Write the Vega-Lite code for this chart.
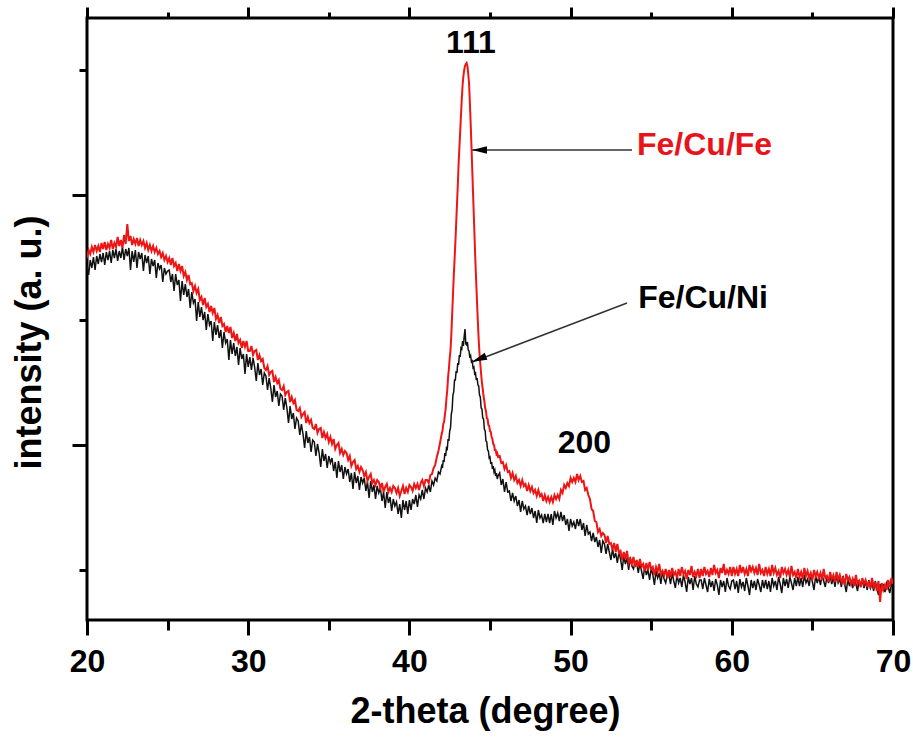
{
"$schema": "https://vega.github.io/schema/vega-lite/v6.json",
"width": 806,
"height": 602,
"autosize": {"type": "none"},
"padding": {"left": 87, "top": 18, "right": 20, "bottom": 122},
"background": "white",
"config": {
  "view": {"stroke": "black", "strokeWidth": 3},
  "axis": {"grid": false, "domain": false, "tickColor": "black", "tickWidth": 3, "labelFont": "Liberation Sans", "titleFont": "Liberation Sans", "labelFontWeight": "bold", "titleFontWeight": "bold", "labelColor": "black", "titleColor": "black", "labelFlush": false}
},
"resolve": {"axis": {"x": "independent", "y": "independent"}},
"datasets": {
"xrd": [
{"t":20.0,"fe":362,"ni":355},{"t":20.1,"fe":370,"ni":345},{"t":20.2,"fe":366,"ni":360},{"t":20.3,"fe":373,"ni":352},{"t":20.4,"fe":368,"ni":363},{"t":20.5,"fe":375,"ni":350},{"t":20.6,"fe":369,"ni":364},{"t":20.7,"fe":374,"ni":356},{"t":20.8,"fe":368,"ni":366},{"t":20.9,"fe":377,"ni":358},
{"t":21.0,"fe":371,"ni":367},{"t":21.1,"fe":378,"ni":355},{"t":21.2,"fe":370,"ni":368},{"t":21.3,"fe":376,"ni":360},{"t":21.4,"fe":372,"ni":369},{"t":21.5,"fe":380,"ni":357},{"t":21.6,"fe":371,"ni":370},{"t":21.7,"fe":377,"ni":362},{"t":21.8,"fe":373,"ni":371},{"t":21.9,"fe":383,"ni":359},
{"t":22.0,"fe":374,"ni":369},{"t":22.1,"fe":380,"ni":362},{"t":22.2,"fe":372,"ni":373},{"t":22.3,"fe":385,"ni":360},{"t":22.4,"fe":376,"ni":371},{"t":22.5,"fe":396,"ni":364},{"t":22.6,"fe":379,"ni":372},{"t":22.7,"fe":384,"ni":350},{"t":22.8,"fe":375,"ni":369},{"t":22.9,"fe":381,"ni":358},
{"t":23.0,"fe":376,"ni":370},{"t":23.1,"fe":382,"ni":352},{"t":23.2,"fe":374,"ni":368},{"t":23.3,"fe":380,"ni":361},{"t":23.4,"fe":375,"ni":367},{"t":23.5,"fe":379,"ni":349},{"t":23.6,"fe":372,"ni":365},{"t":23.7,"fe":377,"ni":357},{"t":23.8,"fe":370,"ni":364},{"t":23.9,"fe":375,"ni":346},
{"t":24.0,"fe":369,"ni":361},{"t":24.1,"fe":374,"ni":354},{"t":24.2,"fe":368,"ni":360},{"t":24.3,"fe":372,"ni":342},{"t":24.4,"fe":366,"ni":357},{"t":24.5,"fe":369,"ni":351},{"t":24.6,"fe":363,"ni":355},{"t":24.7,"fe":367,"ni":338},{"t":24.8,"fe":360,"ni":352},{"t":24.9,"fe":364,"ni":346},
{"t":25.0,"fe":358,"ni":349},{"t":25.1,"fe":362,"ni":350},{"t":25.2,"fe":355,"ni":338},{"t":25.3,"fe":362,"ni":346},{"t":25.4,"fe":354,"ni":329},{"t":25.5,"fe":357,"ni":346},{"t":25.6,"fe":349,"ni":335},{"t":25.7,"fe":356,"ni":340},{"t":25.8,"fe":349,"ni":319},{"t":25.9,"fe":354,"ni":339},
{"t":26.0,"fe":344,"ni":325},{"t":26.1,"fe":348,"ni":336},{"t":26.2,"fe":340,"ni":323},{"t":26.3,"fe":345,"ni":331},{"t":26.4,"fe":336,"ni":312},{"t":26.5,"fe":337,"ni":328},{"t":26.6,"fe":329,"ni":317},{"t":26.7,"fe":334,"ni":321},{"t":26.8,"fe":327,"ni":299},{"t":26.9,"fe":331,"ni":318},
{"t":27.0,"fe":320,"ni":303},{"t":27.1,"fe":323,"ni":313},{"t":27.2,"fe":315,"ni":300},{"t":27.3,"fe":322,"ni":308},{"t":27.4,"fe":313,"ni":290},{"t":27.5,"fe":316,"ni":306},{"t":27.6,"fe":308,"ni":295},{"t":27.7,"fe":314,"ni":299},{"t":27.8,"fe":307,"ni":279},{"t":27.9,"fe":312,"ni":298},
{"t":28.0,"fe":301,"ni":285},{"t":28.1,"fe":305,"ni":295},{"t":28.2,"fe":297,"ni":282},{"t":28.3,"fe":303,"ni":290},{"t":28.4,"fe":294,"ni":272},{"t":28.5,"fe":296,"ni":288},{"t":28.6,"fe":288,"ni":277},{"t":28.7,"fe":294,"ni":281},{"t":28.8,"fe":287,"ni":260},{"t":28.9,"fe":293,"ni":280},
{"t":29.0,"fe":282,"ni":266},{"t":29.1,"fe":287,"ni":277},{"t":29.2,"fe":279,"ni":264},{"t":29.3,"fe":286,"ni":273},{"t":29.4,"fe":277,"ni":255},{"t":29.5,"fe":280,"ni":272},{"t":29.6,"fe":272,"ni":261},{"t":29.7,"fe":279,"ni":266},{"t":29.8,"fe":273,"ni":246},{"t":29.9,"fe":279,"ni":266},
{"t":30.0,"fe":269,"ni":253},{"t":30.1,"fe":269,"ni":263},{"t":30.2,"fe":274,"ni":250},{"t":30.3,"fe":265,"ni":262},{"t":30.4,"fe":269,"ni":253},{"t":30.5,"fe":270,"ni":239},{"t":30.6,"fe":260,"ni":257},{"t":30.7,"fe":265,"ni":245},{"t":30.8,"fe":259,"ni":251},{"t":30.9,"fe":261,"ni":235},
{"t":31.0,"fe":252,"ni":247},{"t":31.1,"fe":250,"ni":244},{"t":31.2,"fe":254,"ni":230},{"t":31.3,"fe":245,"ni":242},{"t":31.4,"fe":248,"ni":232},{"t":31.5,"fe":249,"ni":218},{"t":31.6,"fe":238,"ni":235},{"t":31.7,"fe":243,"ni":223},{"t":31.8,"fe":237,"ni":229},{"t":31.9,"fe":240,"ni":214},
{"t":32.0,"fe":231,"ni":226},{"t":32.1,"fe":230,"ni":224},{"t":32.2,"fe":234,"ni":210},{"t":32.3,"fe":225,"ni":222},{"t":32.4,"fe":228,"ni":212},{"t":32.5,"fe":229,"ni":197},{"t":32.6,"fe":218,"ni":214},{"t":32.7,"fe":223,"ni":201},{"t":32.8,"fe":217,"ni":207},{"t":32.9,"fe":220,"ni":191},
{"t":33.0,"fe":210,"ni":202},{"t":33.1,"fe":209,"ni":199},{"t":33.2,"fe":212,"ni":185},{"t":33.3,"fe":203,"ni":196},{"t":33.4,"fe":206,"ni":186},{"t":33.5,"fe":208,"ni":172},{"t":33.6,"fe":197,"ni":189},{"t":33.7,"fe":203,"ni":177},{"t":33.8,"fe":197,"ni":183},{"t":33.9,"fe":200,"ni":168},
{"t":34.0,"fe":192,"ni":180},{"t":34.1,"fe":191,"ni":178},{"t":34.2,"fe":196,"ni":164},{"t":34.3,"fe":187,"ni":176},{"t":34.4,"fe":191,"ni":167},{"t":34.5,"fe":192,"ni":153},{"t":34.6,"fe":182,"ni":171},{"t":34.7,"fe":188,"ni":159},{"t":34.8,"fe":182,"ni":166},{"t":34.9,"fe":186,"ni":152},
{"t":35.0,"fe":178,"ni":164},{"t":35.1,"fe":183,"ni":157},{"t":35.2,"fe":176,"ni":162},{"t":35.3,"fe":181,"ni":149},{"t":35.4,"fe":171,"ni":158},{"t":35.5,"fe":175,"ni":142},{"t":35.6,"fe":177,"ni":159},{"t":35.7,"fe":167,"ni":148},{"t":35.8,"fe":171,"ni":155},{"t":35.9,"fe":165,"ni":141},
{"t":36.0,"fe":169,"ni":153},{"t":36.1,"fe":167,"ni":146},{"t":36.2,"fe":160,"ni":151},{"t":36.3,"fe":164,"ni":138},{"t":36.4,"fe":154,"ni":147},{"t":36.5,"fe":158,"ni":131},{"t":36.6,"fe":160,"ni":148},{"t":36.7,"fe":151,"ni":137},{"t":36.8,"fe":154,"ni":144},{"t":36.9,"fe":148,"ni":130},
{"t":37.0,"fe":153,"ni":143},{"t":37.1,"fe":150,"ni":137},{"t":37.2,"fe":144,"ni":142},{"t":37.3,"fe":148,"ni":129},{"t":37.4,"fe":139,"ni":138},{"t":37.5,"fe":143,"ni":122},{"t":37.6,"fe":146,"ni":139},{"t":37.7,"fe":137,"ni":128},{"t":37.8,"fe":140,"ni":135},{"t":37.9,"fe":135,"ni":121},
{"t":38.0,"fe":140,"ni":134},{"t":38.1,"fe":138,"ni":127},{"t":38.2,"fe":132,"ni":132},{"t":38.3,"fe":137,"ni":119},{"t":38.4,"fe":128,"ni":128},{"t":38.5,"fe":133,"ni":112},{"t":38.6,"fe":136,"ni":128},{"t":38.7,"fe":128,"ni":117},{"t":38.8,"fe":132,"ni":123},{"t":38.9,"fe":128,"ni":109},
{"t":39.0,"fe":134,"ni":121},{"t":39.1,"fe":132,"ni":114},{"t":39.2,"fe":127,"ni":118},{"t":39.3,"fe":132,"ni":106},{"t":39.4,"fe":124,"ni":116},{"t":39.5,"fe":129,"ni":102},{"t":39.6,"fe":134,"ni":120},{"t":39.7,"fe":126,"ni":110},{"t":39.8,"fe":132,"ni":119},{"t":39.9,"fe":128,"ni":106},
{"t":40.0,"fe":135,"ni":120},{"t":40.1,"fe":133,"ni":110},{"t":40.2,"fe":129,"ni":121},{"t":40.3,"fe":136,"ni":116},{"t":40.4,"fe":132,"ni":125},{"t":40.5,"fe":136,"ni":113},{"t":40.6,"fe":130,"ni":125},{"t":40.7,"fe":137,"ni":121},{"t":40.8,"fe":140,"ni":130},{"t":40.9,"fe":134,"ni":121},
{"t":41.0,"fe":140,"ni":132},{"t":41.1,"fe":140,"ni":128},{"t":41.2,"fe":137,"ni":135},{"t":41.3,"fe":145,"ni":128},{"t":41.4,"fe":146,"ni":139},{"t":41.5,"fe":152,"ni":135},{"t":41.6,"fe":155,"ni":142},{"t":41.7,"fe":163,"ni":139},{"t":41.8,"fe":169,"ni":148},{"t":41.9,"fe":177,"ni":146},
{"t":42.0,"fe":186,"ni":154},{"t":42.05,"fe":189,"ni":152},{"t":42.1,"fe":196,"ni":160},{"t":42.15,"fe":198,"ni":158},{"t":42.2,"fe":205,"ni":167},{"t":42.25,"fe":211,"ni":164},{"t":42.3,"fe":222,"ni":172},{"t":42.35,"fe":230,"ni":171},{"t":42.4,"fe":243,"ni":181},{"t":42.45,"fe":251,"ni":179},
{"t":42.5,"fe":262,"ni":189},{"t":42.55,"fe":270,"ni":192},{"t":42.6,"fe":285,"ni":206},{"t":42.65,"fe":305,"ni":210},{"t":42.7,"fe":324,"ni":225},{"t":42.75,"fe":343,"ni":228},{"t":42.8,"fe":360,"ni":240},{"t":42.85,"fe":377,"ni":240},{"t":42.9,"fe":396,"ni":249},{"t":42.95,"fe":415,"ni":247},
{"t":43.0,"fe":434,"ni":257},{"t":43.05,"fe":455,"ni":255},{"t":43.1,"fe":472,"ni":265},{"t":43.15,"fe":488,"ni":263},{"t":43.2,"fe":505,"ni":272},{"t":43.25,"fe":521,"ni":271},{"t":43.3,"fe":535,"ni":279},{"t":43.35,"fe":544,"ni":274},{"t":43.4,"fe":550,"ni":284},{"t":43.45,"fe":554,"ni":291},
{"t":43.5,"fe":556,"ni":276},{"t":43.55,"fe":557,"ni":275},{"t":43.6,"fe":554,"ni":278},{"t":43.65,"fe":546,"ni":270},{"t":43.7,"fe":537,"ni":269},{"t":43.75,"fe":518,"ni":262},{"t":43.8,"fe":497,"ni":264},{"t":43.85,"fe":474,"ni":258},{"t":43.9,"fe":450,"ni":259},{"t":43.95,"fe":426,"ni":252},
{"t":44.0,"fe":403,"ni":253},{"t":44.05,"fe":379,"ni":246},{"t":44.1,"fe":356,"ni":247},{"t":44.15,"fe":336,"ni":240},{"t":44.2,"fe":316,"ni":242},{"t":44.25,"fe":297,"ni":235},{"t":44.3,"fe":280,"ni":234},{"t":44.35,"fe":266,"ni":225},{"t":44.4,"fe":256,"ni":223},{"t":44.45,"fe":246,"ni":212},
{"t":44.5,"fe":237,"ni":211},{"t":44.55,"fe":231,"ni":202},{"t":44.6,"fe":224,"ni":201},{"t":44.65,"fe":219,"ni":191},{"t":44.7,"fe":212,"ni":189},{"t":44.75,"fe":209,"ni":179},{"t":44.8,"fe":202,"ni":178},{"t":44.85,"fe":201,"ni":170},{"t":44.9,"fe":195,"ni":169},{"t":44.95,"fe":194,"ni":162},
{"t":45.0,"fe":189,"ni":163},{"t":45.05,"fe":188,"ni":156},{"t":45.1,"fe":183,"ni":158},{"t":45.15,"fe":181,"ni":151},{"t":45.2,"fe":176,"ni":154},{"t":45.25,"fe":175,"ni":148},{"t":45.3,"fe":170,"ni":150},{"t":45.35,"fe":170,"ni":144},{"t":45.4,"fe":166,"ni":147},{"t":45.45,"fe":167,"ni":141},
{"t":45.5,"fe":163,"ni":144},{"t":45.6,"fe":164,"ni":147},{"t":45.7,"fe":157,"ni":135},{"t":45.8,"fe":158,"ni":141},{"t":45.9,"fe":151,"ni":128},
{"t":46.0,"fe":155,"ni":138},{"t":46.1,"fe":148,"ni":128},{"t":46.2,"fe":149,"ni":129},{"t":46.3,"fe":142,"ni":119},{"t":46.4,"fe":147,"ni":127},{"t":46.5,"fe":140,"ni":119},{"t":46.6,"fe":144,"ni":124},{"t":46.7,"fe":137,"ni":114},{"t":46.8,"fe":140,"ni":120},{"t":46.9,"fe":134,"ni":108},
{"t":47.0,"fe":140,"ni":119},{"t":47.1,"fe":134,"ni":111},{"t":47.2,"fe":136,"ni":114},{"t":47.3,"fe":129,"ni":105},{"t":47.4,"fe":135,"ni":114},{"t":47.5,"fe":129,"ni":106},{"t":47.6,"fe":133,"ni":112},{"t":47.7,"fe":127,"ni":102},{"t":47.8,"fe":130,"ni":109},{"t":47.9,"fe":124,"ni":97},
{"t":48.0,"fe":130,"ni":110},{"t":48.1,"fe":124,"ni":102},{"t":48.2,"fe":126,"ni":105},{"t":48.3,"fe":119,"ni":97},{"t":48.4,"fe":125,"ni":106},{"t":48.5,"fe":119,"ni":98},{"t":48.6,"fe":123,"ni":106},{"t":48.7,"fe":118,"ni":97},{"t":48.8,"fe":123,"ni":106},{"t":48.9,"fe":118,"ni":95},
{"t":49.0,"fe":125,"ni":109},{"t":49.1,"fe":121,"ni":102},{"t":49.2,"fe":125,"ni":107},{"t":49.3,"fe":121,"ni":99},{"t":49.4,"fe":130,"ni":108},{"t":49.5,"fe":127,"ni":99},{"t":49.6,"fe":135,"ni":105},{"t":49.7,"fe":132,"ni":95},{"t":49.8,"fe":137,"ni":101},{"t":49.9,"fe":134,"ni":89},
{"t":50.0,"fe":142,"ni":101},{"t":50.1,"fe":138,"ni":94},{"t":50.2,"fe":142,"ni":98},{"t":50.3,"fe":138,"ni":91},{"t":50.4,"fe":146,"ni":101},{"t":50.5,"fe":140,"ni":94},{"t":50.6,"fe":144,"ni":101},{"t":50.7,"fe":138,"ni":90},{"t":50.8,"fe":139,"ni":97},{"t":50.9,"fe":130,"ni":84},
{"t":51.0,"fe":132,"ni":95},{"t":51.1,"fe":125,"ni":86},{"t":51.2,"fe":121,"ni":88},{"t":51.3,"fe":111,"ni":79},{"t":51.4,"fe":109,"ni":87},{"t":51.5,"fe":99,"ni":78},{"t":51.6,"fe":98,"ni":83},{"t":51.7,"fe":88,"ni":73},{"t":51.8,"fe":91,"ni":80},{"t":51.9,"fe":84,"ni":67},
{"t":52.0,"fe":87,"ni":79},{"t":52.1,"fe":85,"ni":76},{"t":52.2,"fe":77,"ni":66},{"t":52.3,"fe":84,"ni":76},{"t":52.4,"fe":76,"ni":68},{"t":52.5,"fe":77,"ni":60},{"t":52.6,"fe":70,"ni":71},{"t":52.7,"fe":77,"ni":62},{"t":52.8,"fe":68,"ni":67},{"t":52.9,"fe":76,"ni":57},
{"t":53.0,"fe":67,"ni":68},{"t":53.1,"fe":69,"ni":61},{"t":53.2,"fe":60,"ni":50},{"t":53.3,"fe":68,"ni":64},{"t":53.4,"fe":61,"ni":56},{"t":53.5,"fe":69,"ni":62},{"t":53.6,"fe":57,"ni":50},{"t":53.7,"fe":61,"ni":63},{"t":53.8,"fe":56,"ni":54},{"t":53.9,"fe":63,"ni":51},
{"t":54.0,"fe":53,"ni":58},{"t":54.1,"fe":60,"ni":57},{"t":54.2,"fe":53,"ni":47},{"t":54.3,"fe":61,"ni":57},{"t":54.4,"fe":53,"ni":49},{"t":54.5,"fe":56,"ni":41},{"t":54.6,"fe":49,"ni":54},{"t":54.7,"fe":57,"ni":45},{"t":54.8,"fe":50,"ni":50},{"t":54.9,"fe":58,"ni":40},
{"t":55.0,"fe":51,"ni":52},{"t":55.1,"fe":53,"ni":45},{"t":55.2,"fe":45,"ni":35},{"t":55.3,"fe":53,"ni":49},{"t":55.4,"fe":48,"ni":42},{"t":55.5,"fe":56,"ni":47},{"t":55.6,"fe":45,"ni":36},{"t":55.7,"fe":49,"ni":49},{"t":55.8,"fe":45,"ni":41},{"t":55.9,"fe":51,"ni":37},
{"t":56.0,"fe":42,"ni":45},{"t":56.1,"fe":50,"ni":45},{"t":56.2,"fe":43,"ni":36},{"t":56.3,"fe":52,"ni":47},{"t":56.4,"fe":45,"ni":39},{"t":56.5,"fe":48,"ni":32},{"t":56.6,"fe":42,"ni":45},{"t":56.7,"fe":51,"ni":37},{"t":56.8,"fe":44,"ni":42},{"t":56.9,"fe":53,"ni":33},
{"t":57.0,"fe":46,"ni":45},{"t":57.1,"fe":49,"ni":38},{"t":57.2,"fe":41,"ni":28},{"t":57.3,"fe":50,"ni":43},{"t":57.4,"fe":45,"ni":36},{"t":57.5,"fe":54,"ni":42},{"t":57.6,"fe":43,"ni":30},{"t":57.7,"fe":48,"ni":44},{"t":57.8,"fe":44,"ni":36},{"t":57.9,"fe":51,"ni":33},
{"t":58.0,"fe":42,"ni":40},{"t":58.1,"fe":51,"ni":40},{"t":58.2,"fe":44,"ni":31},{"t":58.3,"fe":53,"ni":42},{"t":58.4,"fe":46,"ni":35},{"t":58.5,"fe":49,"ni":28},{"t":58.6,"fe":43,"ni":41},{"t":58.7,"fe":52,"ni":33},{"t":58.8,"fe":45,"ni":39},{"t":58.9,"fe":55,"ni":29},
{"t":59.0,"fe":47,"ni":41},{"t":59.1,"fe":50,"ni":35},{"t":59.2,"fe":42,"ni":25},{"t":59.3,"fe":52,"ni":40},{"t":59.4,"fe":47,"ni":33},{"t":59.5,"fe":56,"ni":39},{"t":59.6,"fe":45,"ni":28},{"t":59.7,"fe":50,"ni":42},{"t":59.8,"fe":46,"ni":34},{"t":59.9,"fe":53,"ni":31},
{"t":60.0,"fe":44,"ni":39},{"t":60.1,"fe":53,"ni":40},{"t":60.2,"fe":46,"ni":31},{"t":60.3,"fe":51,"ni":39},{"t":60.4,"fe":44,"ni":27},{"t":60.5,"fe":55,"ni":41},{"t":60.6,"fe":47,"ni":33},{"t":60.7,"fe":53,"ni":38},{"t":60.8,"fe":46,"ni":29},{"t":60.9,"fe":51,"ni":42},
{"t":61.0,"fe":44,"ni":34},{"t":61.1,"fe":55,"ni":25},{"t":61.2,"fe":49,"ni":40},{"t":61.3,"fe":53,"ni":32},{"t":61.4,"fe":47,"ni":39},{"t":61.5,"fe":52,"ni":30},{"t":61.6,"fe":45,"ni":41},{"t":61.7,"fe":56,"ni":35},{"t":61.8,"fe":47,"ni":28},{"t":61.9,"fe":50,"ni":40},
{"t":62.0,"fe":44,"ni":32},{"t":62.1,"fe":53,"ni":40},{"t":62.2,"fe":46,"ni":31},{"t":62.3,"fe":51,"ni":39},{"t":62.4,"fe":44,"ni":28},{"t":62.5,"fe":55,"ni":42},{"t":62.6,"fe":47,"ni":34},{"t":62.7,"fe":52,"ni":39},{"t":62.8,"fe":45,"ni":30},{"t":62.9,"fe":49,"ni":43},
{"t":63.0,"fe":42,"ni":36},{"t":63.1,"fe":53,"ni":27},{"t":63.2,"fe":47,"ni":42},{"t":63.3,"fe":51,"ni":34},{"t":63.4,"fe":45,"ni":41},{"t":63.5,"fe":50,"ni":32},{"t":63.6,"fe":43,"ni":43},{"t":63.7,"fe":54,"ni":37},{"t":63.8,"fe":45,"ni":30},{"t":63.9,"fe":48,"ni":42},
{"t":64.0,"fe":42,"ni":34},{"t":64.1,"fe":51,"ni":43},{"t":64.2,"fe":43,"ni":34},{"t":64.3,"fe":48,"ni":42},{"t":64.4,"fe":41,"ni":33},{"t":64.5,"fe":52,"ni":45},{"t":64.6,"fe":44,"ni":37},{"t":64.7,"fe":49,"ni":41},{"t":64.8,"fe":42,"ni":34},{"t":64.9,"fe":47,"ni":46},
{"t":65.0,"fe":40,"ni":38},{"t":65.1,"fe":50,"ni":30},{"t":65.2,"fe":44,"ni":44},{"t":65.3,"fe":48,"ni":37},{"t":65.4,"fe":42,"ni":43},{"t":65.5,"fe":47,"ni":35},{"t":65.6,"fe":40,"ni":45},{"t":65.7,"fe":51,"ni":39},{"t":65.8,"fe":42,"ni":33},{"t":65.9,"fe":44,"ni":44},
{"t":66.0,"fe":38,"ni":37},{"t":66.1,"fe":48,"ni":44},{"t":66.2,"fe":41,"ni":36},{"t":66.3,"fe":45,"ni":43},{"t":66.4,"fe":38,"ni":33},{"t":66.5,"fe":48,"ni":45},{"t":66.6,"fe":40,"ni":37},{"t":66.7,"fe":45,"ni":41},{"t":66.8,"fe":38,"ni":33},{"t":66.9,"fe":42,"ni":44},
{"t":67.0,"fe":35,"ni":36},{"t":67.1,"fe":46,"ni":28},{"t":67.2,"fe":40,"ni":41},{"t":67.3,"fe":43,"ni":34},{"t":67.4,"fe":36,"ni":40},{"t":67.5,"fe":41,"ni":32},{"t":67.6,"fe":34,"ni":41},{"t":67.7,"fe":45,"ni":36},{"t":67.8,"fe":36,"ni":29},{"t":67.9,"fe":39,"ni":40},
{"t":68.0,"fe":33,"ni":33},{"t":68.1,"fe":42,"ni":40},{"t":68.2,"fe":36,"ni":32},{"t":68.3,"fe":40,"ni":39},{"t":68.4,"fe":33,"ni":30},{"t":68.5,"fe":39,"ni":40},{"t":68.6,"fe":32,"ni":32},{"t":68.7,"fe":42,"ni":37},{"t":68.8,"fe":33,"ni":29},{"t":68.9,"fe":36,"ni":39},
{"t":69.0,"fe":29,"ni":32},{"t":69.1,"fe":39,"ni":25},{"t":69.2,"fe":18,"ni":36},{"t":69.3,"fe":37,"ni":30},{"t":69.4,"fe":30,"ni":36},{"t":69.5,"fe":35,"ni":28},{"t":69.6,"fe":30,"ni":37},{"t":69.7,"fe":40,"ni":33},{"t":69.8,"fe":33,"ni":27},{"t":69.9,"fe":42,"ni":36},
{"t":70.0,"fe":36,"ni":33}
]
},
"layer": [
{
  "data": {"name": "xrd"},
  "mark": {"type": "line", "color": "#111111", "strokeWidth": 1.5, "clip": true},
  "encoding": {
    "x": {"field": "t", "type": "quantitative", "scale": {"domain": [20, 70], "nice": false, "zero": false},
          "axis": {"orient": "bottom", "values": [20, 30, 40, 50, 60, 70], "tickSize": 15, "labelFontSize": 32, "labelPadding": 11, "title": "2-theta (degree)", "titleFontSize": 36, "titleX": 398, "titleY": 102, "titleBaseline": "alphabetic", "titleAlign": "center", "titleAnchor": "middle"}},
    "y": {"field": "ni", "type": "quantitative", "scale": {"domain": [0, 602], "nice": false, "zero": false},
          "axis": {"orient": "left", "values": [175, 425], "tickSize": 15, "labels": false, "title": "intensity (a. u.)", "titleFontSize": 36, "titleX": -47, "titleY": 324, "titleBaseline": "alphabetic", "titleAlign": "center", "titleAngle": -90}}
  }
},
{
  "data": {"name": "xrd"},
  "mark": {"type": "line", "color": "#ee1515", "strokeWidth": 2, "clip": true},
  "encoding": {
    "x": {"field": "t", "type": "quantitative", "scale": {"domain": [20, 70], "nice": false, "zero": false},
          "axis": {"orient": "bottom", "values": [25, 35, 45, 55, 65], "tickSize": 10, "labels": false, "title": null}},
    "y": {"field": "fe", "type": "quantitative", "scale": {"domain": [0, 602], "nice": false, "zero": false},
          "axis": {"orient": "left", "values": [50, 300, 550], "tickSize": 8, "labels": false, "title": null}}
  }
},
{
  "data": {"values": [{"t": 53.81, "h": 470, "t2": 43.9, "h2": 470}, {"t": 53.5, "h": 317, "t2": 43.9, "h2": 258}]},
  "mark": {"type": "rule", "color": "#333333", "strokeWidth": 1.5},
  "encoding": {
    "x": {"field": "t", "type": "quantitative", "scale": {"domain": [20, 70], "nice": false, "zero": false}, "axis": null},
    "y": {"field": "h", "type": "quantitative", "scale": {"domain": [0, 602], "nice": false, "zero": false}, "axis": null},
    "x2": {"field": "t2"},
    "y2": {"field": "h2"}
  }
},
{
  "data": {"values": [{"t": 44.35, "h": 470}]},
  "mark": {"type": "point", "shape": "M-1,0L1,-0.5L1,0.5Z", "filled": true, "color": "black", "opacity": 1, "size": 225},
  "encoding": {
    "x": {"field": "t", "type": "quantitative", "scale": {"domain": [20, 70], "nice": false, "zero": false}, "axis": null},
    "y": {"field": "h", "type": "quantitative", "scale": {"domain": [0, 602], "nice": false, "zero": false}, "axis": null}
  }
},
{
  "data": {"values": [{"t": 44.32, "h": 261}]},
  "mark": {"type": "point", "shape": "M-1,0L1,-0.5L1,0.5Z", "filled": true, "color": "black", "opacity": 1, "size": 225, "angle": 339},
  "encoding": {
    "x": {"field": "t", "type": "quantitative", "scale": {"domain": [20, 70], "nice": false, "zero": false}, "axis": null},
    "y": {"field": "h", "type": "quantitative", "scale": {"domain": [0, 602], "nice": false, "zero": false}, "axis": null}
  }
},
{
  "data": {"values": [{"t": 43.82, "h": 567, "s": "111"}, {"t": 50.86, "h": 167, "s": "200"}]},
  "mark": {"type": "text", "font": "Liberation Sans", "fontWeight": "bold", "fontSize": 32, "color": "black", "align": "center", "baseline": "alphabetic"},
  "encoding": {
    "x": {"field": "t", "type": "quantitative", "scale": {"domain": [20, 70], "nice": false, "zero": false},
          "axis": {"orient": "top", "values": [20, 30, 40, 50, 60, 70], "tickSize": 11, "labels": false, "title": null}},
    "y": {"field": "h", "type": "quantitative", "scale": {"domain": [0, 602], "nice": false, "zero": false}, "axis": null},
    "text": {"field": "s"}
  }
},
{
  "data": {"values": [{"t": 54.19, "h": 312, "s": "Fe/Cu/Ni"}]},
  "mark": {"type": "text", "font": "Liberation Sans", "fontWeight": "bold", "fontSize": 32, "color": "black", "align": "left", "baseline": "alphabetic"},
  "encoding": {
    "x": {"field": "t", "type": "quantitative", "scale": {"domain": [20, 70], "nice": false, "zero": false},
          "axis": {"orient": "top", "values": [25, 35, 45, 55, 65], "tickSize": 6, "labels": false, "title": null}},
    "y": {"field": "h", "type": "quantitative", "scale": {"domain": [0, 602], "nice": false, "zero": false}, "axis": null},
    "text": {"field": "s"}
  }
},
{
  "data": {"values": [{"t": 54.12, "h": 465, "s": "Fe/Cu/Fe"}]},
  "mark": {"type": "text", "font": "Liberation Sans", "fontWeight": "bold", "fontSize": 32, "color": "#e8141b", "align": "left", "baseline": "alphabetic"},
  "encoding": {
    "x": {"field": "t", "type": "quantitative", "scale": {"domain": [20, 70], "nice": false, "zero": false}, "axis": null},
    "y": {"field": "h", "type": "quantitative", "scale": {"domain": [0, 602], "nice": false, "zero": false}, "axis": null},
    "text": {"field": "s"}
  }
}
]
}
